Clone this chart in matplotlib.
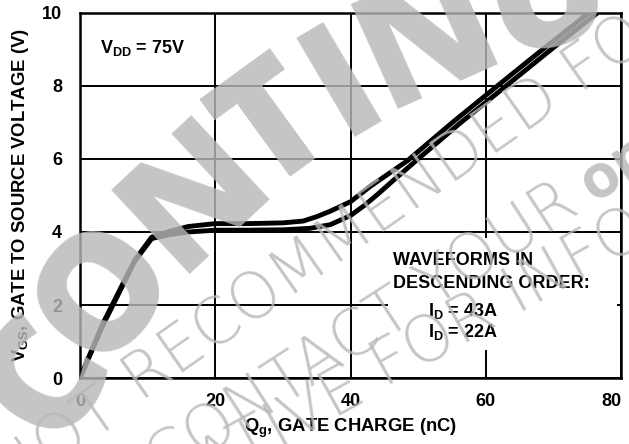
import numpy as np
import matplotlib
matplotlib.use("Agg")
from matplotlib import pyplot as plt

W, H = 629, 444

# gate charge curves (nC, V)
q_43a = [0, 3.4, 8.1, 10.6, 13.3, 16, 20, 25, 30, 33, 35, 37, 40, 43, 48.4, 55, 61.9, 68, 75.5]
v_43a = [0, 1.5, 3.23, 3.86, 4.02, 4.15, 4.23, 4.23, 4.25, 4.3, 4.42, 4.57, 4.83, 5.26, 5.95, 6.99, 8.03, 8.94, 10.04]

q_22a = [0, 3.4, 8.1, 10.6, 13.3, 16, 20, 25, 30, 34, 37, 40, 42, 44, 46, 49.8, 56, 63, 70, 76.5]
v_22a = [0, 1.45, 3.2, 3.82, 3.93, 4.0, 4.05, 4.05, 4.06, 4.1, 4.2, 4.45, 4.72, 5.03, 5.36, 5.97, 6.95, 8.0, 9.05, 10.0]

x_ticks = [0, 20, 40, 60, 80]
y_ticks = [0, 2, 4, 6, 8, 10]

# watermark text
big_letters = ["C", "O", "N", "T", "I", "N", "U"]
big_angles = [148.8, 141.9, 133.0, 126.0, 120.6, 114.2, 105.75]
wm_lines = ["NOT", "RECOMMENDED FOR NEW DESIGNS",
            "CONTACT YOUR", "REPRESENTATIVE", "FOR INFORMATION"]
wm_logo = "on"

plt.rcParams['font.family'] = ['Liberation Sans', 'DejaVu Sans']
plt.rcParams['font.weight'] = 'bold'
plt.rcParams['mathtext.default'] = 'regular'

FS = 13


def fpos(x, y):
    # pixel position (from top-left) -> figure fraction
    return x / W, 1 - y / H


fig = plt.figure(figsize=(W / 100, H / 100), dpi=100)
fig.patch.set_facecolor('white')
ax = fig.add_axes([80 / W, 66 / H, 541 / W, 365 / H])

ax.set_xlim(0, 80)
ax.set_ylim(0, 10)
ax.set_xticks(x_ticks)
ax.set_yticks(y_ticks)
ax.set_xticklabels([str(t) for t in x_ticks], fontsize=FS, fontweight='bold')
ax.set_yticklabels([str(t) for t in y_ticks], fontsize=FS, fontweight='bold')
ax.get_xticklabels()[-1].set_ha('right')
ax.tick_params(axis='x', length=0, pad=10.5)
ax.tick_params(axis='y', length=0, pad=13)
ax.grid(True, color='black', linewidth=1.4)
for s in ax.spines.values():
    s.set_linewidth(1.8)
    s.set_zorder(5)

ax.plot(q_43a, v_43a, color='black', linewidth=3.5, solid_capstyle='butt', zorder=3)
ax.plot(q_22a, v_22a, color='black', linewidth=3.5, solid_capstyle='butt', zorder=3)

ax.set_xlabel('Q$_{g}$, GATE CHARGE (nC)', fontsize=FS + 0.3, fontweight='bold', labelpad=5)
ax.set_ylabel('V$_{GS}$, GATE TO SOURCE VOLTAGE (V)', fontsize=FS + 0.3, fontweight='bold', labelpad=8)

# V_DD label on a white patch
ax.add_patch(plt.Rectangle((0.3, 8.58), 17.9, 0.9, facecolor='white',
                           edgecolor='none', zorder=4))
ax.text(2.9, 9.05, 'V$_{DD}$ = 75V', fontsize=FS, fontweight='bold',
        va='center', ha='left', zorder=6)

# annotation box
ax.add_patch(plt.Rectangle((45.5, 0.77), 33.9, 3.07, facecolor='white',
                           edgecolor='none', zorder=4))
ax.text(46.3, 3.23, 'WAVEFORMS IN', fontsize=FS, fontweight='bold', zorder=6, va='center')
ax.text(46.3, 2.58, 'DESCENDING ORDER:', fontsize=FS, fontweight='bold', zorder=6, va='center')
ax.text(51.5, 1.84, 'I$_{D}$ = 43A', fontsize=FS, fontweight='bold', zorder=6, va='center')
ax.text(51.5, 1.26, 'I$_{D}$ = 22A', fontsize=FS, fontweight='bold', zorder=6, va='center')

# watermark: big word on an arc
wm_color = '#b8b8b8'
cx, cy, rad = 779.6, 821, 853
for ch, ang in zip(big_letters, big_angles):
    a = np.radians(ang)
    px = cx + rad * np.cos(a)
    py = cy - rad * np.sin(a)
    fig.text(*fpos(px, py), ch, fontsize=116, fontweight=800, color=wm_color,
             alpha=0.82, rotation=ang - 90, rotation_mode='anchor',
             ha='center', va='center', zorder=20,
             family=['Open Sans', 'Roboto', 'Liberation Sans'])

# watermark: thin lines of text
thin = dict(fontsize=46, fontweight='light', color=wm_color, alpha=0.82,
            rotation_mode='anchor', va='baseline', zorder=20,
            family=['DejaVu Sans'])
fig.text(*fpos(123, 413), wm_lines[0], ha='right', rotation=35, **thin)
fig.text(*fpos(140, 402), wm_lines[1], ha='left', rotation=35, **thin)
fig.text(*fpos(582, 212), wm_lines[2], ha='right', rotation=33, **thin)
fig.text(*fpos(368, 396), wm_lines[3], ha='right', rotation=29, **thin)
fig.text(*fpos(385, 388), wm_lines[4], ha='left', rotation=29, **thin)
fig.text(*fpos(594, 204), wm_logo, ha='left', rotation=33, fontsize=44,
         fontweight='bold', color=wm_color, alpha=0.82, rotation_mode='anchor',
         va='baseline', zorder=20, family=['Open Sans', 'Liberation Sans'])

fig.savefig('out.png', dpi=100)
